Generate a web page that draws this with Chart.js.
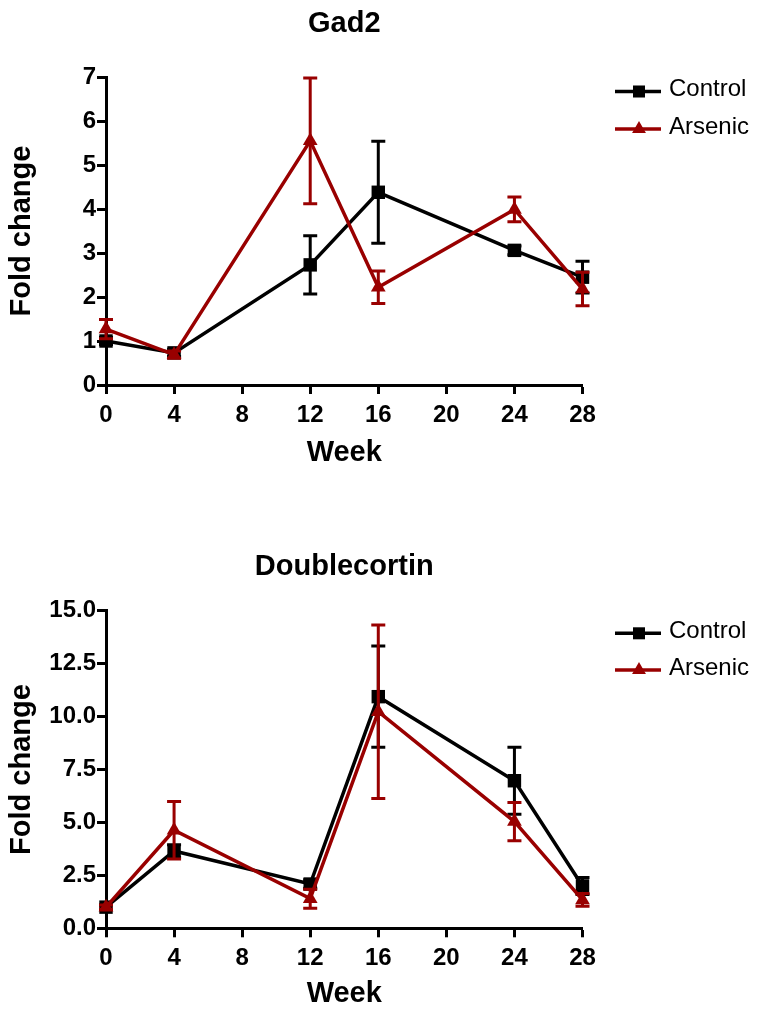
<!DOCTYPE html>
<html>
<head>
<meta charset="utf-8">
<script src="https://cdn.jsdelivr.net/npm/chart.js@4.4.1/dist/chart.umd.min.js"></script>
<style>
  html, body { margin: 0; padding: 0; background: #fff; }
  canvas { display: block; }
</style>
</head>
<body>
<canvas id="c1" width="757" height="500"></canvas>
<canvas id="c2" width="757" height="511"></canvas>
<script>
// ---- data ----
const weeks = [0, 4, 12, 16, 24, 28];
const xTicks = [0, 4, 8, 12, 16, 20, 24, 28];
const seriesNames = ['Control', 'Arsenic'];

const gad2Title = 'Gad2';
const gad2Control = [1.0, 0.73, 2.73, 4.38, 3.06, 2.45];
const gad2ControlErr = [0.08, 0.08, 0.66, 1.16, 0.1, 0.36];
const gad2Arsenic = [1.27, 0.69, 5.55, 2.22, 3.99, 2.18];
const gad2ArsenicErr = [0.22, 0.08, 1.43, 0.37, 0.28, 0.38];
const gad2YTicks = [0, 1, 2, 3, 4, 5, 6, 7];

const dcxTitle = 'Doublecortin';
const dcxControl = [1.0, 3.65, 2.09, 10.94, 6.97, 2.0];
const dcxControlErr = [0.1, 0.3, 0.2, 2.39, 1.58, 0.4];
const dcxArsenic = [1.0, 4.63, 1.4, 10.23, 5.04, 1.34];
const dcxArsenicErr = [0.1, 1.36, 0.45, 4.1, 0.9, 0.3];
const dcxYTicks = [0, 2.5, 5, 7.5, 10, 12.5, 15];

const xTitle = 'Week';
const yTitle = 'Fold change';

// ---- styles ----
const BLACK = '#000000';
const RED = '#990000';
const FONT = '"Liberation Sans", Arial, sans-serif';

function pts(xs, ys) { return xs.map((x, i) => ({ x: x, y: ys[i] })); }

const errorBarPlugin = {
  id: 'errorBars',
  beforeDatasetDraw(chart, args) {
    const ds = chart.data.datasets[args.index];
    if (!ds.errors) return;
    const ctx = chart.ctx;
    const xs = chart.scales.x, ys = chart.scales.y;
    ctx.save();
    ctx.strokeStyle = ds.borderColor;
    ctx.lineWidth = 3;
    ctx.lineCap = 'butt';
    ds.data.forEach((p, i) => {
      const e = ds.errors[i];
      if (!e) return;
      const px = xs.getPixelForValue(p.x);
      const yTop = ys.getPixelForValue(p.y + e);
      const yBot = ys.getPixelForValue(Math.max(0, p.y - e));
      const cap = 7;
      ctx.beginPath();
      ctx.moveTo(px, yTop); ctx.lineTo(px, yBot);
      ctx.moveTo(px - cap, yTop); ctx.lineTo(px + cap, yTop);
      ctx.moveTo(px - cap, yBot); ctx.lineTo(px + cap, yBot);
      ctx.stroke();
    });
    ctx.restore();
  }
};

const annotationPlugin = {
  id: 'annot',
  afterDraw(chart) {
    const o = chart.options.plugins.annot;
    const ctx = chart.ctx;
    const ca = chart.chartArea;
    ctx.save();
    // title
    ctx.fillStyle = BLACK;
    ctx.font = 'bold 29px ' + FONT;
    ctx.textAlign = 'center';
    ctx.textBaseline = 'alphabetic';
    ctx.fillText(o.title, (ca.left + ca.right) / 2, o.titleY);
    // legend
    const ordered = [...chart.data.datasets].sort((a, b) => a.legendIndex - b.legendIndex);
    ordered.forEach((ds, i) => {
      const y = o.legendY[i];
      ctx.strokeStyle = ds.borderColor;
      ctx.lineWidth = 3.5;
      ctx.beginPath();
      ctx.moveTo(615, y); ctx.lineTo(661, y);
      ctx.stroke();
      ctx.fillStyle = ds.borderColor;
      Chart.helpers.drawPoint(ctx, { pointStyle: ds.pointStyle, radius: ds.legendRadius, rotation: 0, borderWidth: 0 }, 639, y);
      ctx.fillStyle = BLACK;
      ctx.font = '24px ' + FONT;
      ctx.textAlign = 'left';
      ctx.textBaseline = 'middle';
      ctx.fillText(ds.label, 669, y - 2);
    });
    ctx.restore();
  }
};

function makeChart(id, title, ctrl, ctrlErr, ars, arsErr, yTicks, yMax, yFmt, L) {
  return new Chart(document.getElementById(id), {
    type: 'scatter',
    data: {
      datasets: [
        {
          label: seriesNames[0], legendIndex: 0, order: 1,
          data: pts(weeks, ctrl), errors: ctrlErr,
          showLine: true, borderColor: BLACK, backgroundColor: BLACK,
          borderWidth: 3.5, pointStyle: 'rect', pointRadius: 9.5, legendRadius: 8.5,
          pointBorderWidth: 0, pointHoverRadius: 9.5, clip: false
        },
        {
          label: seriesNames[1], legendIndex: 1, order: 0,
          data: pts(weeks, ars), errors: arsErr,
          showLine: true, borderColor: RED, backgroundColor: RED,
          borderWidth: 3.5, pointStyle: 'triangle', pointRadius: 8.5, legendRadius: 8,
          pointBorderWidth: 0, pointHoverRadius: 8.5, clip: false
        }
      ]
    },
    options: {
      responsive: false,
      animation: false,
      events: [],
      layout: { padding: { top: L.top, right: 174.5, left: 0, bottom: L.bottom } },
      plugins: {
        legend: { display: false },
        tooltip: { enabled: false },
        title: { display: false },
        annot: { title: title, titleY: L.titleY, legendY: L.legendY }
      },
      scales: {
        x: {
          type: 'linear', min: 0, max: 28,
          afterBuildTicks: (s) => { s.ticks = xTicks.map(v => ({ value: v })); },
          afterFit: (s) => { s.height = L.xHeight; },
          grid: { display: true, drawOnChartArea: false, drawTicks: true, tickLength: 9, tickWidth: 3, tickColor: BLACK },
          border: { display: true, color: BLACK, width: 3 },
          ticks: { color: BLACK, font: { family: FONT, size: 24, weight: 'bold' }, padding: 7, maxRotation: 0, autoSkip: false },
          title: { display: true, text: xTitle, color: BLACK, font: { family: FONT, size: 29, weight: 'bold' }, padding: { top: 0, bottom: L.xTitlePad } }
        },
        y: {
          type: 'linear', min: 0, max: yMax,
          afterBuildTicks: (s) => { s.ticks = yTicks.map(v => ({ value: v })); },
          afterFit: (s) => { s.width = 106; },
          grid: { display: true, drawOnChartArea: false, drawTicks: true, tickLength: 9, tickWidth: 3, tickColor: BLACK },
          border: { display: true, color: BLACK, width: 3 },
          ticks: { color: BLACK, font: { family: FONT, size: 24, weight: 'bold' }, padding: 1, callback: yFmt, autoSkip: false },
          title: { display: true, text: yTitle, color: BLACK, font: { family: FONT, size: 29, weight: 'bold' }, padding: { top: 5, bottom: 0 } }
        }
      }
    },
    plugins: [errorBarPlugin, annotationPlugin]
  });
}

makeChart('c1', gad2Title, gad2Control, gad2ControlErr, gad2Arsenic, gad2ArsenicErr, gad2YTicks, 7,
  (v) => String(v),
  { top: 77, bottom: 0, xHeight: 115, xTitlePad: 30, titleY: 31.5, legendY: [91.5, 129] });

makeChart('c2', dcxTitle, dcxControl, dcxControlErr, dcxArsenic, dcxArsenicErr, dcxYTicks, 15,
  (v) => Number(v).toFixed(1),
  { top: 110.7, bottom: 0, xHeight: 82.7, xTitlePad: 0, titleY: 75, legendY: [133.3, 170] });
</script>
</body>
</html>
